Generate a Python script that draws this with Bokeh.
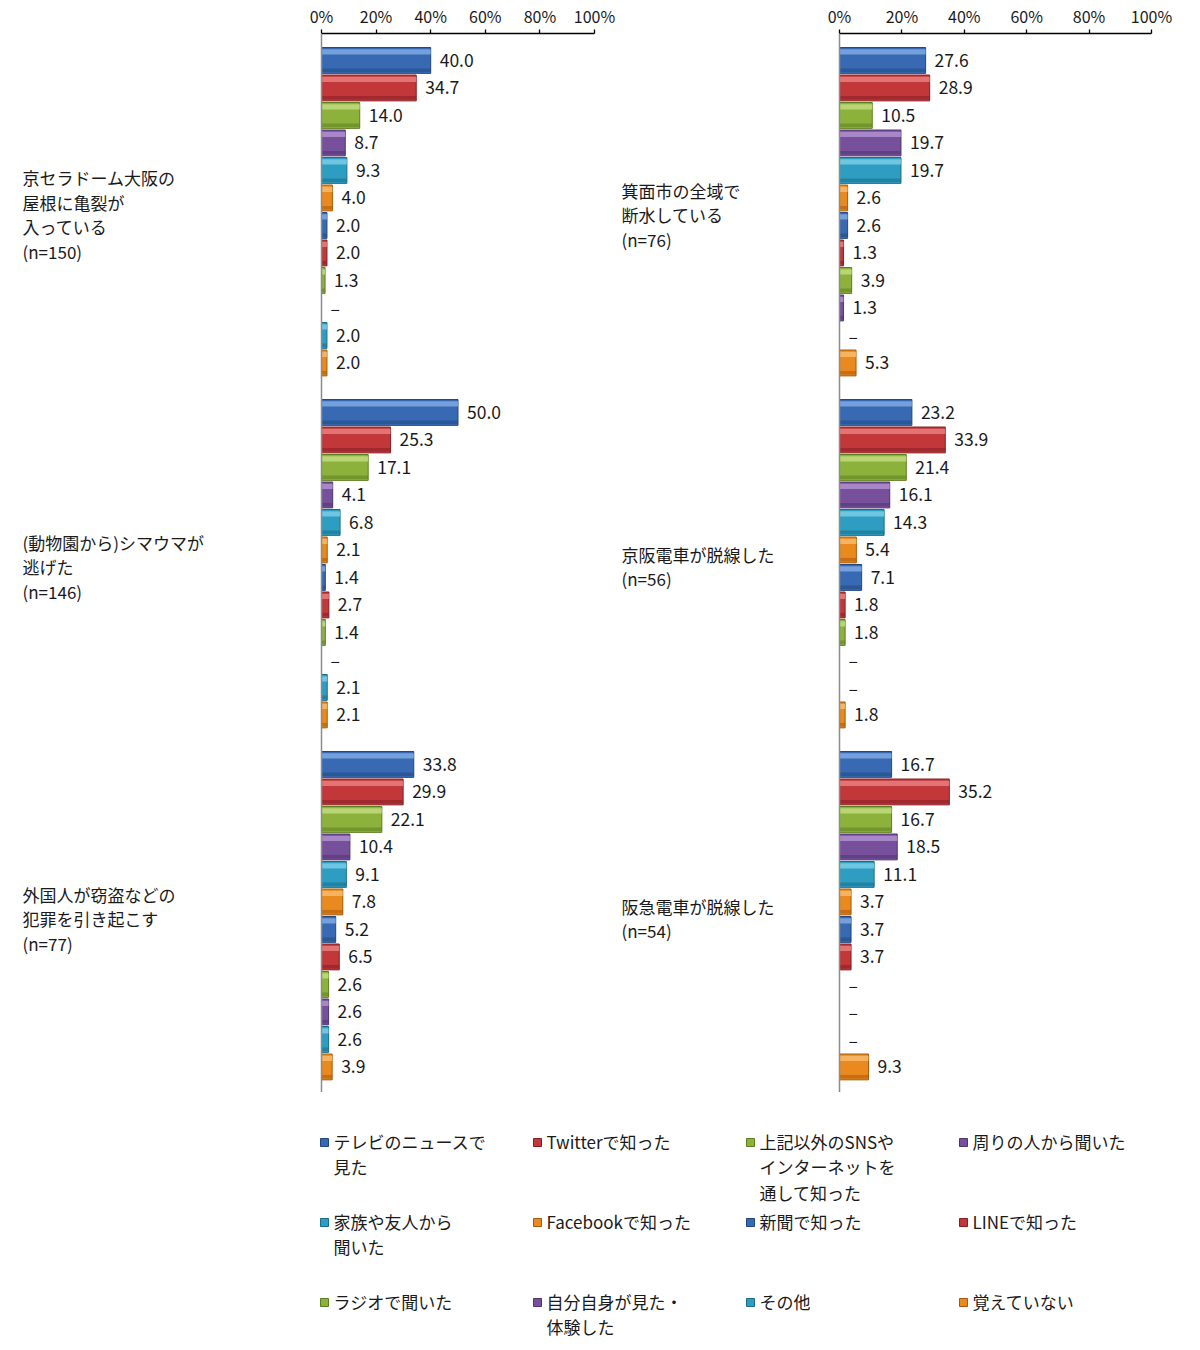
from bokeh.plotting import figure
from bokeh.models import Range1d, FixedTicker, PrintfTickFormatter, Span, ColumnDataSource
from bokeh.layouts import column, row
from bokeh.embed import file_html
from bokeh.resources import INLINE
from bokeh.core.properties import value

FONT = "Noto Sans CJK JP"
TXT = "#1a1a1a"

# ---------------- data ----------------
series_names = [
    "テレビのニュースで\n見た",
    "Twitterで知った",
    "上記以外のSNSや\nインターネットを\n通して知った",
    "周りの人から聞いた",
    "家族や友人から\n聞いた",
    "Facebookで知った",
    "新聞で知った",
    "LINEで知った",
    "ラジオで聞いた",
    "自分自身が見た・\n体験した",
    "その他",
    "覚えていない",
]

left_categories = [
    "京セラドーム大阪の\n屋根に亀裂が\n入っている\n(n=150)",
    "(動物園から)シマウマが\n逃げた\n(n=146)",
    "外国人が窃盗などの\n犯罪を引き起こす\n(n=77)",
]
left_values = [
    [40.0, 34.7, 14.0, 8.7, 9.3, 4.0, 2.0, 2.0, 1.3, None, 2.0, 2.0],
    [50.0, 25.3, 17.1, 4.1, 6.8, 2.1, 1.4, 2.7, 1.4, None, 2.1, 2.1],
    [33.8, 29.9, 22.1, 10.4, 9.1, 7.8, 5.2, 6.5, 2.6, 2.6, 2.6, 3.9],
]

right_categories = [
    "箕面市の全域で\n断水している\n(n=76)",
    "京阪電車が脱線した\n(n=56)",
    "阪急電車が脱線した\n(n=54)",
]
right_values = [
    [27.6, 28.9, 10.5, 19.7, 19.7, 2.6, 2.6, 1.3, 3.9, 1.3, None, 5.3],
    [23.2, 33.9, 21.4, 16.1, 14.3, 5.4, 7.1, 1.8, 1.8, None, None, 1.8],
    [16.7, 35.2, 16.7, 18.5, 11.1, 3.7, 3.7, 3.7, None, None, None, 9.3],
]

x_ticks = [0, 20, 40, 60, 80, 100]

# ---------------- styles ----------------
base_colors = ["#386ab3", "#c2373a", "#8db23c", "#77509c", "#2d9ec2", "#ea8a1e"]
light_colors = ["#86aee6", "#e98585", "#c4df82", "#b395d2", "#80d0e8", "#f9be73"]
dark_colors = ["#22477f", "#861f22", "#5c7d1f", "#4f346e", "#1a6c88", "#a55a0a"]
series_colors = base_colors * 2
series_light = light_colors * 2
series_dark = dark_colors * 2

GROUP_STEP = 12.8
BAR_H = 0.94
FIG_H = 1092


def make_panel(categories, values, width, px0, px100, cat_x_offset):
    scale = (px100 - px0) / 100.0
    xr = Range1d(-px0 / scale, (width - px0) / scale)
    yr = Range1d(37.53, -0.98)
    p = figure(width=width, height=FIG_H, x_range=xr, y_range=yr,
               x_axis_location="above", y_axis_location=None,
               output_backend="svg", toolbar_location=None,
               min_border_left=0, min_border_right=0, min_border_bottom=0,
               min_border_top=33)
    p.outline_line_color = None
    p.grid.visible = False
    p.background_fill_color = "white"
    p.border_fill_color = "white"

    ys, vals, labels, cols, lights, darks = [], [], [], [], [], []
    for g, grp in enumerate(values):
        for i, v in enumerate(grp):
            ys.append(g * GROUP_STEP + i)
            vals.append(0.0 if v is None else v)
            labels.append("–" if v is None else f"{v:.1f}")
            cols.append(series_colors[i])
            lights.append(series_light[i])
            darks.append(series_dark[i])
    src = ColumnDataSource(dict(
        y=ys, y_hi=[y - BAR_H * 0.33 for y in ys], y_lo=[y + BAR_H * 0.38 for y in ys],
        val=vals, label=labels, color=cols, light=lights, dark=darks))

    p.hbar(y="y", left=0, right="val", height=BAR_H, fill_color="color",
           line_color="dark", line_width=1, source=src)
    p.hbar(y="y_hi", left=0, right="val", height=BAR_H * 0.2, fill_color="light",
           line_color=None, fill_alpha=0.8, source=src)
    p.hbar(y="y_lo", left=0, right="val", height=BAR_H * 0.14, fill_color="dark",
           line_color=None, fill_alpha=0.55, source=src)

    p.text(x="val", y="y", text="label", source=src, x_offset=9,
           text_baseline="middle", text_align="left",
           text_font=value(FONT), text_font_size="17.5px", text_color=TXT)

    p.text(x=[0] * len(categories),
           y=[g * GROUP_STEP + 5.5 for g in range(len(categories))],
           text=categories, x_offset=cat_x_offset, y_offset=3,
           text_baseline="middle", text_align="left", text_line_height=0.98,
           text_font=value(FONT), text_font_size="17px", text_color=TXT)

    p.add_layout(Span(location=0, dimension="height", line_color="#8c8c8c", line_width=1.5))

    ax = p.xaxis[0]
    ax.ticker = FixedTicker(ticks=x_ticks)
    ax.formatter = PrintfTickFormatter(format="%d%%")
    ax.bounds = (0, 100)
    ax.axis_line_color = "black"
    ax.axis_line_width = 1.3
    ax.major_tick_line_color = "black"
    ax.major_tick_line_width = 1.3
    ax.major_tick_out = 4
    ax.major_tick_in = 0
    ax.minor_tick_line_color = None
    ax.major_label_standoff = 2
    ax.major_label_text_font = FONT
    ax.major_label_text_font_size = "16px"
    ax.major_label_text_color = TXT
    return p


left = make_panel(left_categories, left_values, 620, 321, 594, -299)
right = make_panel(right_categories, right_values, 572, 219, 531, -218)

# ---------------- legend ----------------
LEG_W = 1192
LEG_H = 250
leg = figure(width=LEG_W, height=LEG_H, x_range=Range1d(-324 / 213, (LEG_W - 324) / 213),
             y_range=Range1d((LEG_H - 50) / 80, -50 / 80),
             x_axis_location=None, y_axis_location=None,
             output_backend="svg", toolbar_location=None,
             min_border_left=0, min_border_right=0, min_border_bottom=0, min_border_top=0)
leg.outline_line_color = None
leg.grid.visible = False
lx = [k % 4 for k in range(len(series_names))]
ly = [k // 4 for k in range(len(series_names))]
lsrc = ColumnDataSource(dict(x=lx, y=ly, text=series_names, color=series_colors,
                             dark=series_dark))
leg.scatter(x="x", y="y", marker="square", size=8, fill_color="color",
            line_color="dark", line_width=1, source=lsrc)
leg.text(x="x", y="y", text="text", source=lsrc, x_offset=9, y_offset=-14,
         text_baseline="top", text_align="left", text_line_height=1.03,
         text_font=value(FONT), text_font_size="17px", text_color=TXT)

layout = column(row(left, right), leg)
open("out.html", "w").write(file_html(layout, INLINE))
